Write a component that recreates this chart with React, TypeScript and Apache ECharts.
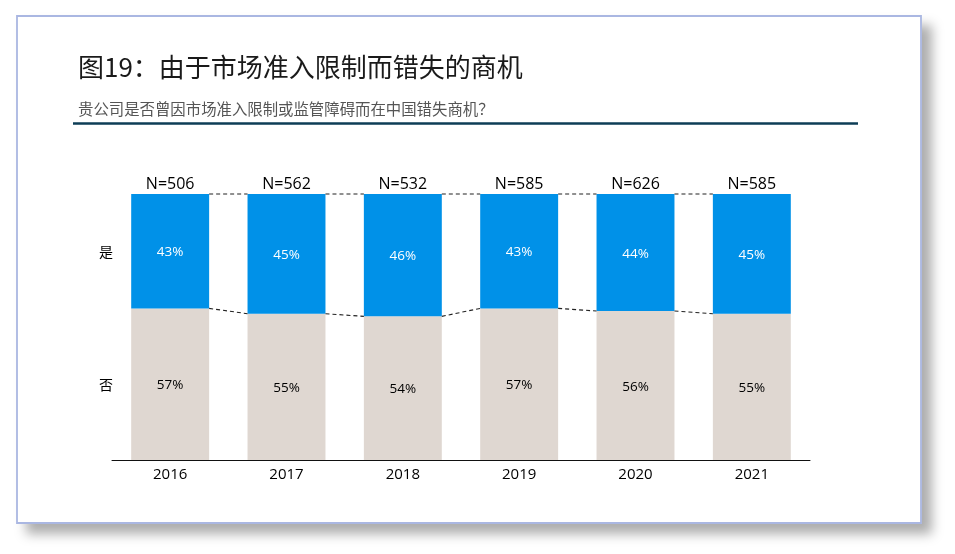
import React, { useEffect, useRef } from "react";
import * as echarts from "echarts";

const years = ["2016", "2017", "2018", "2019", "2020", "2021"];
const yesValues = [43, 45, 46, 43, 44, 45];
const noValues = [57, 55, 54, 57, 56, 55];
const sampleSizes = [506, 562, 532, 585, 626, 585];
const seriesNames = ["是", "否"];
const titleText = "图19：由于市场准入限制而错失的商机";
const subtitleText = "贵公司是否曾因市场准入限制或监管障碍而在中国错失商机？";

const BLUE = "#0091e8";
const BEIGE = "#dfd7d1";
const BAR_RATIO = 0.67;

export default function App() {
  const ref = useRef<HTMLDivElement>(null);
  useEffect(() => {
    if (!ref.current) return;
    const chart = echarts.init(ref.current, null, { renderer: "svg" });
    const totals = yesValues.map((v, i) => v + noValues[i]);
    const connector = (vals: number[]) =>
      vals.slice(0, -1).map((v, i) => [i, v, vals[i + 1]]);
    const renderConnector = (params: any, api: any) => {
      const i = api.value(0);
      const bw = api.size([1, 0])[0] * BAR_RATIO;
      const p1 = api.coord([i, api.value(1)]);
      const p2 = api.coord([i + 1, api.value(2)]);
      return {
        type: "line",
        shape: { x1: p1[0] + bw / 2, y1: p1[1], x2: p2[0] - bw / 2, y2: p2[1] },
        style: { stroke: "#222", lineWidth: 1.1, lineDash: [4, 3] },
      };
    };
    chart.setOption({
      animation: false,
      graphic: [
        {
          type: "rect",
          shape: { x: 17, y: 16, width: 904, height: 507 },
          style: {
            fill: "#fff",
            stroke: "#aab7e2",
            lineWidth: 1.8,
            shadowBlur: 12,
            shadowOffsetX: 10,
            shadowOffsetY: 10,
            shadowColor: "rgba(0,0,0,0.32)",
          },
          z: -10,
        },
        {
          type: "text",
          left: 78,
          top: 52,
          style: {
            text: titleText,
            fontSize: 26,
            fill: "#1a1a1a",
            fontFamily: "Noto Sans CJK SC",
          },
        },
        {
          type: "text",
          left: 78,
          top: 100,
          style: {
            text: subtitleText,
            fontSize: 15.4,
            fill: "#555",
            fontFamily: "Noto Sans CJK SC",
          },
        },
        {
          type: "line",
          shape: { x1: 73, y1: 123.5, x2: 858, y2: 123.5 },
          style: { stroke: "#0d3d56", lineWidth: 2.5 },
        },
        {
          type: "text",
          x: 106,
          y: 251,
          style: {
            text: seriesNames[0],
            fontSize: 14,
            fill: "#000",
            align: "center",
            verticalAlign: "middle",
            fontFamily: "Noto Sans CJK SC",
          },
        },
        {
          type: "text",
          x: 106,
          y: 384,
          style: {
            text: seriesNames[1],
            fontSize: 14,
            fill: "#000",
            align: "center",
            verticalAlign: "middle",
            fontFamily: "Noto Sans CJK SC",
          },
        },
      ],
      grid: { left: 112, right: 145, top: 194, bottom: 94 },
      xAxis: {
        type: "category",
        data: years,
        axisLine: { lineStyle: { color: "#111", width: 1 } },
        axisTick: { show: false },
        axisLabel: {
          color: "#000",
          fontSize: 15,
          margin: 5,
          fontFamily: "Open Sans",
        },
      },
      yAxis: { type: "value", min: 0, max: 100, show: false },
      series: [
        {
          name: seriesNames[1],
          type: "bar",
          stack: "total",
          data: noValues,
          barWidth: BAR_RATIO * 100 + "%",
          itemStyle: { color: BEIGE },
          label: {
            show: true,
            position: "inside",
            formatter: "{c}%",
            color: "#000",
            fontSize: 13.5,
            fontFamily: "Open Sans",
          },
        },
        {
          name: seriesNames[0],
          type: "bar",
          stack: "total",
          data: yesValues,
          barWidth: BAR_RATIO * 100 + "%",
          itemStyle: { color: BLUE },
          label: {
            show: true,
            position: "inside",
            formatter: "{c}%",
            color: "#fff",
            fontSize: 13.5,
            fontFamily: "Open Sans",
          },
        },
        {
          type: "scatter",
          data: totals,
          symbolSize: 0,
          silent: true,
          itemStyle: { opacity: 1 },
          label: {
            show: true,
            position: "top",
            distance: 3,
            formatter: (p: any) => "N=" + sampleSizes[p.dataIndex],
            color: "#000",
            fontSize: 16,
            fontFamily: "Open Sans",
          },
        },
        {
          type: "custom",
          data: connector(totals),
          renderItem: renderConnector,
          silent: true,
          z: 5,
        },
        {
          type: "custom",
          data: connector(noValues),
          renderItem: renderConnector,
          silent: true,
          z: 5,
        },
      ],
    });
    return () => chart.dispose();
  }, []);
  return (
    <div
      ref={ref}
      style={{ position: "fixed", left: 0, top: 0, width: 955, height: 554 }}
    />
  );
}
